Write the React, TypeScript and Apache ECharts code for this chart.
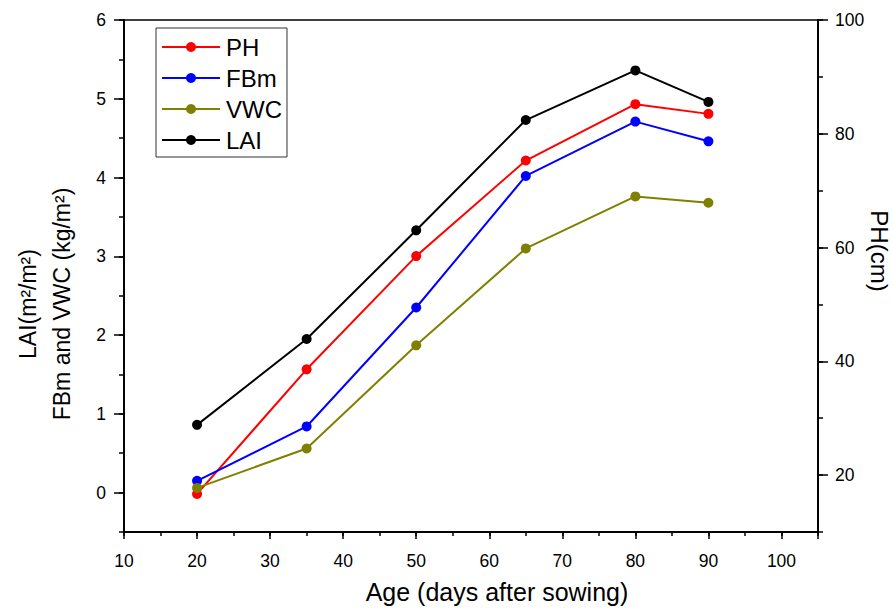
import React, { useEffect, useRef } from "react";
import * as echarts from "echarts";

const days = [20, 35, 50, 65, 80, 90];
const phValues = [16.7, 38.6, 58.5, 75.3, 85.2, 83.5];
const fbmValues = [0.15, 0.84, 2.35, 4.02, 4.71, 4.46];
const vwcValues = [0.06, 0.56, 1.87, 3.1, 3.76, 3.68];
const laiValues = [0.86, 1.95, 3.33, 4.73, 5.36, 4.96];

const xTickLabels = [10, 20, 30, 40, 50, 60, 70, 80, 90, 100];
const leftTickLabels = [0, 1, 2, 3, 4, 5, 6];
const rightTickLabels = [20, 40, 60, 80, 100];

const FONT = "'Liberation Sans', Arial, Helvetica, sans-serif";

export default function App() {
  const ref = useRef<HTMLDivElement>(null);
  useEffect(() => {
    if (!ref.current) return;
    const chart = echarts.init(ref.current, undefined, { renderer: "svg" });
    const axisLine = { show: true, onZero: false, lineStyle: { color: "#000", width: 1.5 } };
    const label = { color: "#000", fontSize: 17.5, fontFamily: FONT };
    const pair = (d: number[], v: number[]) => d.map((x, i) => [x, v[i]]);
    const mk = (name: string, color: string, data: number[], yIdx: number) => ({
      name,
      type: "line",
      xAxisIndex: 0,
      yAxisIndex: yIdx,
      data: pair(days, data),
      symbol: "circle",
      symbolSize: 10,
      lineStyle: { color, width: 2 },
      itemStyle: { color },
    });
    chart.setOption({
      animation: false,
      backgroundColor: "#fff",
      grid: {
        left: 124,
        right: 75,
        top: 20,
        bottom: 77,
        show: true,
        borderColor: "#000",
        borderWidth: 1.5,
      },
      legend: {
        orient: "vertical",
        left: 156,
        top: 28,
        itemWidth: 58,
        itemHeight: 12.5,
        itemGap: 7,
        padding: [7, 5, 5, 5],
        borderColor: "#333",
        borderWidth: 1,
        textStyle: { color: "#000", fontSize: 24, fontFamily: FONT, padding: [0, 0, 0, 1] },
        data: ["PH", "FBm", "VWC", "LAI"],
      },
      xAxis: [
        {
          type: "value",
          min: 10,
          max: 105,
          interval: 5,
          position: "bottom",
          axisLine,
          axisTick: { show: true, length: 4, lineStyle: { color: "#000", width: 1.5 } },
          axisLabel: { show: false },
          splitLine: { show: false },
        },
        {
          type: "value",
          min: 10,
          max: 105,
          interval: 10,
          position: "bottom",
          axisLine,
          axisTick: { show: true, length: 7, lineStyle: { color: "#000", width: 1.5 } },
          axisLabel: {
            ...label,
            margin: 20,
            formatter: (v: number) => (xTickLabels.includes(v) ? String(v) : ""),
          },
          splitLine: { show: false },
        },
      ],
      yAxis: [
        {
          type: "value",
          min: -0.5,
          max: 6,
          interval: 0.5,
          position: "left",
          axisLine,
          axisTick: { show: true, length: 5, lineStyle: { color: "#000", width: 1.5 } },
          axisLabel: { show: false },
          splitLine: { show: false },
        },
        {
          type: "value",
          min: -0.5,
          max: 6,
          position: "left",
          axisLine,
          axisTick: {
            show: true,
            length: 10,
            customValues: leftTickLabels,
            lineStyle: { color: "#000", width: 1.5 },
          },
          axisLabel: { ...label, margin: 18, customValues: leftTickLabels },
          splitLine: { show: false },
        },
        {
          type: "value",
          min: 10,
          max: 100,
          interval: 10,
          position: "right",
          axisLine,
          axisTick: { show: true, length: 5, lineStyle: { color: "#000", width: 1.5 } },
          axisLabel: { show: false },
          splitLine: { show: false },
        },
        {
          type: "value",
          min: 10,
          max: 100,
          position: "right",
          axisLine,
          axisTick: {
            show: true,
            length: 10,
            customValues: rightTickLabels,
            lineStyle: { color: "#000", width: 1.5 },
          },
          axisLabel: { ...label, margin: 17, customValues: rightTickLabels },
          splitLine: { show: false },
        },
      ],
      graphic: [
        {
          type: "text",
          x: 45,
          y: 304,
          rotation: Math.PI / 2,
          style: {
            text: "LAI(m²/m²)\nFBm and VWC (kg/m²)",
            fontSize: 23,
            lineHeight: 34,
            fontFamily: FONT,
            fill: "#000",
            align: "center",
            verticalAlign: "middle",
          },
        },
        {
          type: "text",
          x: 879,
          y: 251,
          rotation: -Math.PI / 2,
          style: {
            text: "PH(cm)",
            fontSize: 24,
            fontFamily: FONT,
            fill: "#000",
            align: "center",
            verticalAlign: "middle",
          },
        },
        {
          type: "text",
          x: 497,
          y: 592,
          style: {
            text: "Age (days after sowing)",
            fontSize: 25,
            fontFamily: FONT,
            fill: "#000",
            align: "center",
            verticalAlign: "middle",
          },
        },
      ],
      series: [
        mk("PH", "#ff0000", phValues, 3),
        mk("FBm", "#0000ff", fbmValues, 0),
        mk("VWC", "#808000", vwcValues, 0),
        mk("LAI", "#000000", laiValues, 0),
      ],
    });
    return () => chart.dispose();
  }, []);
  return (
    <div
      ref={ref}
      style={{ position: "fixed", left: 0, top: 0, width: 893, height: 609, background: "#fff" }}
    />
  );
}
